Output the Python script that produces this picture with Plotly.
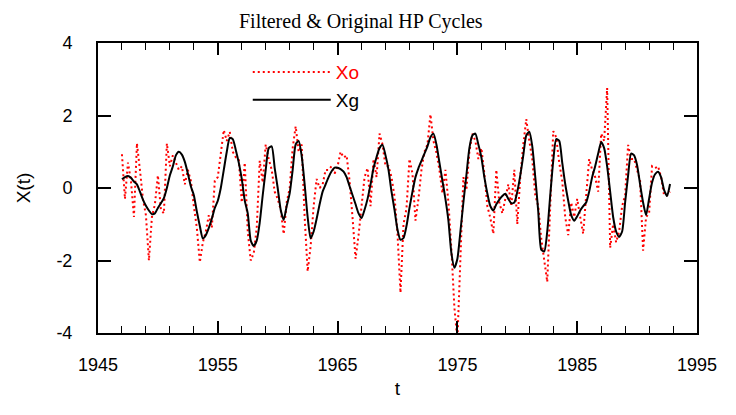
import plotly.graph_objects as go

# quarterly data, 1947Q1 - 1992Q4
years = list(range(1947, 1993))

# original HP cycle (Xo), four quarters per row
xo = [
    0.93, -0.30, 0.70, 0.20,     # 1947
    -0.80, 1.23, 0.50, -0.30,    # 1948
    -0.75, -2.00, -0.80, -0.45,  # 1949
    0.35, -0.60, -0.70, 1.23,    # 1950
    0.60, 0.90, 0.70, 0.50,      # 1951
    0.60, 0.10, 0.50, 0.20,      # 1952
    -0.50, -1.10, -2.05, -1.50,  # 1953
    -1.20, -0.75, -1.10, 0.20,   # 1954
    0.30, 0.90, 1.60, 1.30,      # 1955
    1.55, 1.00, 0.85, 0.80,      # 1956
    -0.40, 0.70, -1.20, -2.00,   # 1957
    -1.80, -1.10, 0.75, 0.15,    # 1958
    1.20, 0.80, 0.50, -0.10,     # 1959
    -0.30, -0.60, -1.27, -0.40,  # 1960
    0.00, 1.10, 1.70, 1.00,      # 1961
    1.20, -0.80, -2.30, -1.60,   # 1962
    -0.50, 0.25, 0.00, 0.10,     # 1963
    0.50, 0.50, 0.60, 0.40,      # 1964
    0.60, 1.00, 0.84, 0.90,      # 1965
    0.20, -0.83, -1.95, -1.30,   # 1966
    -0.40, 0.30, 0.55, -0.50,    # 1967
    0.80, 0.30, 1.50, 1.20,      # 1968
    0.60, 0.60, 0.30, -0.23,     # 1969
    -1.26, -2.89, -1.00, -0.57,  # 1970
    0.80, 0.40, -0.90, -0.30,    # 1971
    0.50, 1.00, 1.20, 2.03,      # 1972
    1.30, 0.97, 0.50, -0.14,     # 1973
    0.50, -0.40, -1.70, -3.30,   # 1974
    -4.20, -1.90, 0.30, -0.06,   # 1975
    1.00, 1.50, 1.30, 0.80,      # 1976
    1.10, 0.40, -0.50, -0.83,    # 1977
    -1.26, 0.50, -0.40, -0.70,   # 1978
    -0.30, 0.10, -0.50, 0.50,    # 1979
    -1.00, 0.30, 1.20, 1.90,     # 1980
    1.30, 0.80, -0.20, -0.50,    # 1981
    -1.40, -2.00, -2.59, -0.50,  # 1982
    1.57, 1.40, 0.70, 0.20,      # 1983
    -0.80, -1.30, -0.40, -0.80,  # 1984
    -0.30, -0.80, -1.26, -0.20,  # 1985
    0.80, 0.50, 0.30, -0.10,     # 1986
    1.50, 1.30, 2.76, -1.65,     # 1987
    -1.00, -1.50, -1.20, -0.50,  # 1988
    -0.20, 1.19, 0.80, 0.80,     # 1989
    0.50, 0.20, -1.73, -0.80,    # 1990
    -0.70, 0.60, 0.55, 0.60,     # 1991
    0.30, -0.20, -0.20, -0.10,   # 1992
]

# filtered cycle (Xg)
xg = [
    0.24, 0.30, 0.33, 0.28,      # 1947
    0.18, 0.10, -0.10, -0.32,    # 1948
    -0.49, -0.62, -0.72, -0.70,  # 1949
    -0.55, -0.42, -0.28, 0.00,   # 1950
    0.35, 0.60, 0.90, 1.00,      # 1951
    0.92, 0.72, 0.40, 0.05,      # 1952
    -0.20, -0.65, -1.05, -1.39,  # 1953
    -1.30, -1.10, -0.85, -0.55,  # 1954
    -0.35, 0.00, 0.50, 1.00,     # 1955
    1.38, 1.35, 1.05, 0.70,      # 1956
    0.25, -0.35, -0.70, -1.45,   # 1957
    -1.60, -1.45, -0.95, -0.20,  # 1958
    0.50, 1.10, 1.15, 0.55,      # 1959
    0.00, -0.60, -0.88, -0.50,   # 1960
    -0.15, 0.50, 1.20, 1.30,     # 1961
    0.89, 0.10, -0.80, -1.39,    # 1962
    -1.20, -0.85, -0.45, -0.10,  # 1963
    0.10, 0.30, 0.46, 0.56,      # 1964
    0.56, 0.52, 0.45, 0.30,      # 1965
    0.05, -0.20, -0.45, -0.70,   # 1966
    -0.83, -0.60, -0.30, 0.10,   # 1967
    0.55, 0.85, 1.10, 1.19,      # 1968
    0.90, 0.50, -0.10, -0.60,    # 1969
    -1.15, -1.43, -1.38, -1.05,  # 1970
    -0.55, -0.10, 0.30, 0.55,    # 1971
    0.75, 0.95, 1.15, 1.40,      # 1972
    1.50, 1.20, 0.70, 0.20,      # 1973
    -0.30, -0.90, -1.80, -2.20,  # 1974
    -1.95, -1.20, -0.40, 0.35,   # 1975
    1.10, 1.45, 1.50, 1.20,      # 1976
    0.85, 0.30, -0.15, -0.50,    # 1977
    -0.62, -0.45, -0.32, -0.22,  # 1978
    -0.16, -0.30, -0.42, -0.40,  # 1979
    -0.10, 0.35, 0.90, 1.45,     # 1980
    1.55, 1.15, 0.30, -0.65,     # 1981
    -1.70, -1.75, -1.20, -0.20,  # 1982
    0.75, 1.35, 1.30, 0.70,      # 1983
    0.11, -0.35, -0.75, -0.90,   # 1984
    -0.78, -0.62, -0.50, -0.40,  # 1985
    -0.10, 0.30, 0.60, 0.95,     # 1986
    1.27, 1.10, 0.60, -0.10,     # 1987
    -0.80, -1.20, -1.35, -1.20,  # 1988
    -0.40, 0.35, 0.95, 0.90,     # 1989
    0.63, 0.10, -0.40, -0.75,    # 1990
    -0.30, 0.15, 0.38, 0.45,     # 1991
    0.30, -0.05, -0.22, 0.11,    # 1992
]

x_ticks = [1945, 1955, 1965, 1975, 1985, 1995]
y_ticks = [-4, -2, 0, 2, 4]
y_labels = ["-4", "-2", "0", "2", "4"]

t = [y + q / 4 for y in years for q in range(4)]

fig = go.Figure()

fig.add_trace(go.Scatter(
    x=t, y=xo,
    mode="lines",
    name="<span style='color:#ff0000'>Xo</span>",
    line=dict(color="#ff0000", width=2, dash="2px,3px"),
))

fig.add_trace(go.Scatter(
    x=t, y=xg,
    mode="lines",
    name="Xg",
    line=dict(color="black", width=2, shape="spline", smoothing=0.6),
))

axis_common = dict(
    showline=True, linecolor="black", linewidth=2, mirror="ticks",
    ticks="inside", tickcolor="black", tickwidth=2,
    showgrid=False, zeroline=False,
    tickfont=dict(family="Liberation Sans", size=18, color="black"),
    ticklabeloverflow="allow",
)

# pad the y labels away from the axis line
pad = "\u00a0\u00a0\u00a0\u00a0"

# page body has an 8px margin, so the figure is 16px smaller than the window
fig.update_layout(
    width=720, height=399,
    paper_bgcolor="white", plot_bgcolor="white",
    margin=dict(l=90, r=11, t=35, b=57),
    title=dict(
        text="Filtered & Original HP Cycles",
        font=dict(family="Liberation Serif", size=20, color="black"),
        x=0.49, xanchor="center", y=0.967, yanchor="middle",
    ),
    xaxis=dict(
        range=[1945, 1995], tickmode="array", tickvals=x_ticks, ticklen=12,
        minor=dict(dtick=2, tick0=1945, ticks="inside", ticklen=7, tickwidth=1, tickcolor="black"),
        title=dict(text="t", font=dict(family="Liberation Sans", size=19, color="black"), standoff=8),
        ticklabelstandoff=14,
        **axis_common,
    ),
    yaxis=dict(
        range=[-4, 4], tickmode="array", tickvals=y_ticks,
        ticktext=[s + pad for s in y_labels], ticklen=13,
        title=dict(text="X(t)", font=dict(family="Liberation Sans", size=19, color="black"), standoff=21),
        **axis_common,
    ),
    legend=dict(
        x=0.25, y=0.965, xanchor="left", yanchor="top",
        bgcolor="rgba(0,0,0,0)", itemwidth=78, tracegroupgap=0,
        font=dict(family="Liberation Sans", size=19, color="black"),
    ),
    showlegend=True,
)

fig.write_html("out.html")
